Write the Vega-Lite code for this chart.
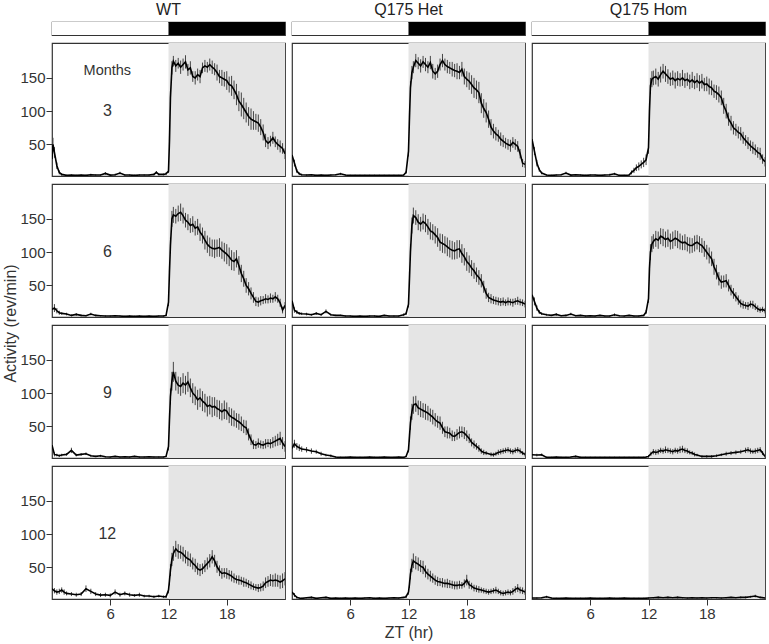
{
"$schema":"https://vega.github.io/schema/vega-lite/v6.json",
"background":"white",
"padding":{"left":2,"right":4,"top":1,"bottom":4},
"config":{
 "font":"Liberation Sans",
 "view":{"stroke":"#333","strokeWidth":1.2},
 "axis":{"labelFont":"Liberation Sans","labelFontSize":15,"labelColor":"#333","tickColor":"#333","tickSize":6,"labelPadding":1,"domain":false,"grid":false,"titleFont":"Liberation Sans","titleFontSize":16,"titleFontWeight":"normal","titleColor":"#333"},
 "title":{"font":"Liberation Sans","fontSize":16,"fontWeight":"normal","color":"#222","offset":4}
},
"datasets":{
"ld":[{"s":0,"e":12,"p":"L"},{"s":12,"e":24,"p":"D"}],
"WT3":[{"t":0,"v":28,"e":8},{"t":0.1,"v":50,"e":10},{"t":0.25,"v":38,"e":8},{"t":0.5,"v":18,"e":5},{"t":0.75,"v":8,"e":3},{"t":1,"v":5,"e":2},{"t":1.5,"v":3.5,"e":1},{"t":2,"v":4,"e":1},{"t":2.5,"v":3.5,"e":1},{"t":3,"v":4,"e":1},{"t":3.5,"v":3.5,"e":1},{"t":4,"v":4.5,"e":1.5},{"t":4.5,"v":4,"e":1},{"t":5,"v":4,"e":1},{"t":5.5,"v":6.5,"e":2},{"t":6,"v":4,"e":1},{"t":6.5,"v":4.5,"e":1.5},{"t":7,"v":7,"e":2},{"t":7.5,"v":4,"e":1},{"t":8,"v":4,"e":1},{"t":8.5,"v":3.5,"e":1},{"t":9,"v":4,"e":1},{"t":9.5,"v":4,"e":1},{"t":10,"v":4,"e":1},{"t":10.5,"v":5,"e":1.5},{"t":10.75,"v":8,"e":2},{"t":11,"v":5,"e":1.5},{"t":11.5,"v":5,"e":1.5},{"t":11.75,"v":6,"e":2},{"t":12,"v":10,"e":3},{"t":12.1,"v":55,"e":8},{"t":12.2,"v":120,"e":10},{"t":12.35,"v":165,"e":10},{"t":12.5,"v":175,"e":8},{"t":12.75,"v":168,"e":9},{"t":13,"v":172,"e":8},{"t":13.25,"v":166,"e":10},{"t":13.5,"v":170,"e":9},{"t":13.75,"v":174,"e":10},{"t":14,"v":162,"e":9},{"t":14.25,"v":165,"e":10},{"t":14.5,"v":152,"e":8},{"t":14.75,"v":150,"e":10},{"t":15,"v":155,"e":9},{"t":15.25,"v":152,"e":10},{"t":15.5,"v":165,"e":8},{"t":15.75,"v":168,"e":9},{"t":16,"v":166,"e":8},{"t":16.25,"v":170,"e":9},{"t":16.5,"v":166,"e":10},{"t":16.75,"v":163,"e":9},{"t":17,"v":158,"e":12},{"t":17.25,"v":152,"e":10},{"t":17.5,"v":150,"e":12},{"t":17.75,"v":148,"e":11},{"t":18,"v":146,"e":14},{"t":18.25,"v":140,"e":12},{"t":18.5,"v":138,"e":15},{"t":18.75,"v":132,"e":14},{"t":19,"v":125,"e":16},{"t":19.25,"v":115,"e":15},{"t":19.5,"v":110,"e":18},{"t":19.75,"v":104,"e":16},{"t":20,"v":98,"e":15},{"t":20.25,"v":92,"e":14},{"t":20.5,"v":88,"e":16},{"t":20.75,"v":86,"e":14},{"t":21,"v":84,"e":12},{"t":21.25,"v":82,"e":13},{"t":21.5,"v":76,"e":12},{"t":21.75,"v":68,"e":12},{"t":22,"v":56,"e":10},{"t":22.25,"v":52,"e":9},{"t":22.5,"v":55,"e":8},{"t":22.75,"v":60,"e":9},{"t":23,"v":54,"e":8},{"t":23.25,"v":50,"e":8},{"t":23.5,"v":47,"e":9},{"t":23.75,"v":44,"e":8},{"t":24,"v":36,"e":8}],
"Het3":[{"t":0,"v":34,"e":6},{"t":0.25,"v":22,"e":5},{"t":0.5,"v":10,"e":3},{"t":0.75,"v":6,"e":2},{"t":1,"v":4.5,"e":1.5},{"t":1.5,"v":4,"e":1},{"t":2,"v":4.5,"e":1},{"t":2.5,"v":3.5,"e":1},{"t":3,"v":4,"e":1},{"t":3.5,"v":3.5,"e":1},{"t":4,"v":4,"e":1},{"t":4.5,"v":4.5,"e":1},{"t":5,"v":6,"e":1.5},{"t":5.5,"v":4,"e":1},{"t":6,"v":3.5,"e":1},{"t":6.5,"v":3.5,"e":1},{"t":7,"v":3.5,"e":1},{"t":7.5,"v":3.5,"e":1},{"t":8,"v":3.5,"e":1},{"t":8.5,"v":3.5,"e":1},{"t":9,"v":3.5,"e":1},{"t":9.5,"v":3.5,"e":1},{"t":10,"v":3.5,"e":1},{"t":10.5,"v":3.5,"e":1},{"t":11,"v":3.5,"e":1},{"t":11.5,"v":4,"e":1},{"t":11.75,"v":8,"e":2},{"t":12,"v":40,"e":8},{"t":12.1,"v":90,"e":10},{"t":12.2,"v":135,"e":10},{"t":12.35,"v":158,"e":10},{"t":12.5,"v":166,"e":9},{"t":12.75,"v":176,"e":10},{"t":13,"v":172,"e":9},{"t":13.25,"v":168,"e":10},{"t":13.5,"v":174,"e":9},{"t":13.75,"v":170,"e":10},{"t":14,"v":166,"e":9},{"t":14.25,"v":173,"e":10},{"t":14.5,"v":160,"e":11},{"t":14.75,"v":156,"e":9},{"t":15,"v":160,"e":10},{"t":15.25,"v":170,"e":9},{"t":15.5,"v":176,"e":10},{"t":15.75,"v":170,"e":9},{"t":16,"v":167,"e":10},{"t":16.25,"v":165,"e":9},{"t":16.5,"v":163,"e":11},{"t":16.75,"v":161,"e":10},{"t":17,"v":160,"e":12},{"t":17.25,"v":158,"e":10},{"t":17.5,"v":163,"e":11},{"t":17.75,"v":152,"e":12},{"t":18,"v":148,"e":12},{"t":18.25,"v":145,"e":13},{"t":18.5,"v":140,"e":14},{"t":18.75,"v":135,"e":15},{"t":19,"v":132,"e":14},{"t":19.25,"v":128,"e":16},{"t":19.5,"v":112,"e":15},{"t":19.75,"v":104,"e":14},{"t":20,"v":98,"e":15},{"t":20.25,"v":88,"e":13},{"t":20.5,"v":76,"e":12},{"t":20.75,"v":70,"e":11},{"t":21,"v":66,"e":10},{"t":21.25,"v":63,"e":9},{"t":21.5,"v":58,"e":10},{"t":21.75,"v":55,"e":9},{"t":22,"v":52,"e":8},{"t":22.25,"v":50,"e":8},{"t":22.5,"v":48,"e":9},{"t":22.75,"v":53,"e":8},{"t":23,"v":50,"e":8},{"t":23.25,"v":47,"e":8},{"t":23.5,"v":36,"e":7},{"t":23.75,"v":22,"e":6},{"t":24,"v":20,"e":5}],
"Hom3":[{"t":0,"v":58,"e":8},{"t":0.25,"v":40,"e":6},{"t":0.5,"v":22,"e":5},{"t":0.75,"v":12,"e":3},{"t":1,"v":7,"e":2},{"t":1.5,"v":4,"e":1},{"t":2,"v":3.5,"e":1},{"t":2.5,"v":4,"e":1},{"t":3,"v":4.5,"e":1},{"t":3.5,"v":7,"e":2},{"t":4,"v":4,"e":1},{"t":4.5,"v":4.5,"e":1},{"t":5,"v":4,"e":1},{"t":5.5,"v":3.5,"e":1},{"t":6,"v":4,"e":1},{"t":6.5,"v":4,"e":1},{"t":7,"v":3.5,"e":1},{"t":7.5,"v":4,"e":1},{"t":8,"v":4.5,"e":1.5},{"t":8.5,"v":6,"e":1.5},{"t":9,"v":3.5,"e":1},{"t":9.5,"v":3.5,"e":1},{"t":10,"v":4,"e":1},{"t":10.25,"v":8,"e":3},{"t":10.5,"v":11,"e":4},{"t":10.75,"v":15,"e":5},{"t":11,"v":17,"e":6},{"t":11.25,"v":20,"e":6},{"t":11.5,"v":23,"e":7},{"t":11.75,"v":27,"e":8},{"t":12,"v":45,"e":9},{"t":12.1,"v":100,"e":12},{"t":12.2,"v":138,"e":12},{"t":12.35,"v":148,"e":12},{"t":12.5,"v":150,"e":11},{"t":12.75,"v":152,"e":12},{"t":13,"v":148,"e":11},{"t":13.25,"v":155,"e":12},{"t":13.5,"v":160,"e":11},{"t":13.75,"v":156,"e":12},{"t":14,"v":152,"e":11},{"t":14.25,"v":148,"e":10},{"t":14.5,"v":150,"e":11},{"t":14.75,"v":146,"e":12},{"t":15,"v":149,"e":11},{"t":15.25,"v":147,"e":10},{"t":15.5,"v":150,"e":12},{"t":15.75,"v":146,"e":11},{"t":16,"v":148,"e":10},{"t":16.25,"v":144,"e":11},{"t":16.5,"v":147,"e":12},{"t":16.75,"v":143,"e":10},{"t":17,"v":146,"e":11},{"t":17.25,"v":142,"e":12},{"t":17.5,"v":145,"e":11},{"t":17.75,"v":140,"e":10},{"t":18,"v":141,"e":11},{"t":18.25,"v":137,"e":12},{"t":18.5,"v":135,"e":11},{"t":18.75,"v":130,"e":10},{"t":19,"v":128,"e":11},{"t":19.25,"v":125,"e":12},{"t":19.5,"v":120,"e":11},{"t":19.75,"v":108,"e":12},{"t":20,"v":100,"e":11},{"t":20.25,"v":88,"e":10},{"t":20.5,"v":82,"e":11},{"t":20.75,"v":75,"e":10},{"t":21,"v":72,"e":9},{"t":21.25,"v":68,"e":9},{"t":21.5,"v":66,"e":10},{"t":21.75,"v":60,"e":9},{"t":22,"v":56,"e":8},{"t":22.25,"v":52,"e":9},{"t":22.5,"v":48,"e":8},{"t":22.75,"v":45,"e":9},{"t":23,"v":42,"e":8},{"t":23.25,"v":38,"e":8},{"t":23.5,"v":36,"e":9},{"t":23.75,"v":28,"e":7},{"t":24,"v":24,"e":7}],
"WT6":[{"t":0,"v":14,"e":5},{"t":0.25,"v":16,"e":6},{"t":0.5,"v":12,"e":4},{"t":0.75,"v":9,"e":3},{"t":1,"v":8,"e":2},{"t":1.5,"v":7,"e":2},{"t":2,"v":5,"e":1.5},{"t":2.5,"v":6.5,"e":2},{"t":3,"v":5,"e":1.5},{"t":3.5,"v":4.5,"e":1},{"t":4,"v":7,"e":2},{"t":4.5,"v":5,"e":1.5},{"t":5,"v":4.5,"e":1},{"t":5.5,"v":4,"e":1},{"t":6,"v":4,"e":1},{"t":6.5,"v":4.5,"e":1},{"t":7,"v":4,"e":1},{"t":7.5,"v":3.5,"e":1},{"t":8,"v":4,"e":1},{"t":8.5,"v":3.5,"e":1},{"t":9,"v":4,"e":1},{"t":9.5,"v":3.5,"e":1},{"t":10,"v":4,"e":1},{"t":10.5,"v":3.5,"e":1},{"t":11,"v":4,"e":1},{"t":11.5,"v":4,"e":1},{"t":11.75,"v":5,"e":1},{"t":12,"v":25,"e":6},{"t":12.1,"v":70,"e":10},{"t":12.2,"v":110,"e":12},{"t":12.35,"v":150,"e":12},{"t":12.5,"v":156,"e":12},{"t":12.75,"v":154,"e":11},{"t":13,"v":158,"e":12},{"t":13.25,"v":160,"e":13},{"t":13.5,"v":155,"e":12},{"t":13.75,"v":148,"e":11},{"t":14,"v":145,"e":12},{"t":14.25,"v":140,"e":11},{"t":14.5,"v":142,"e":12},{"t":14.75,"v":136,"e":11},{"t":15,"v":138,"e":12},{"t":15.25,"v":130,"e":13},{"t":15.5,"v":125,"e":12},{"t":15.75,"v":118,"e":14},{"t":16,"v":112,"e":13},{"t":16.25,"v":108,"e":14},{"t":16.5,"v":106,"e":13},{"t":16.75,"v":105,"e":14},{"t":17,"v":106,"e":13},{"t":17.25,"v":107,"e":14},{"t":17.5,"v":103,"e":13},{"t":17.75,"v":100,"e":14},{"t":18,"v":97,"e":15},{"t":18.25,"v":93,"e":14},{"t":18.5,"v":88,"e":15},{"t":18.75,"v":86,"e":14},{"t":19,"v":90,"e":13},{"t":19.25,"v":80,"e":14},{"t":19.5,"v":68,"e":13},{"t":19.75,"v":60,"e":12},{"t":20,"v":50,"e":11},{"t":20.25,"v":45,"e":10},{"t":20.5,"v":38,"e":9},{"t":20.75,"v":32,"e":8},{"t":21,"v":26,"e":7},{"t":21.25,"v":25,"e":7},{"t":21.5,"v":27,"e":7},{"t":21.75,"v":28,"e":6},{"t":22,"v":30,"e":7},{"t":22.25,"v":29,"e":6},{"t":22.5,"v":31,"e":7},{"t":22.75,"v":30,"e":6},{"t":23,"v":33,"e":7},{"t":23.25,"v":30,"e":6},{"t":23.5,"v":24,"e":6},{"t":23.75,"v":13,"e":5},{"t":24,"v":20,"e":5}],
"Het6":[{"t":0,"v":27,"e":6},{"t":0.25,"v":13,"e":4},{"t":0.5,"v":10,"e":3},{"t":0.75,"v":8,"e":2},{"t":1,"v":7.5,"e":2},{"t":1.5,"v":7,"e":2},{"t":2,"v":6,"e":1.5},{"t":2.5,"v":8,"e":2},{"t":3,"v":6,"e":1.5},{"t":3.5,"v":11,"e":3},{"t":4,"v":6,"e":1.5},{"t":4.5,"v":5,"e":1},{"t":5,"v":5,"e":1},{"t":5.5,"v":4,"e":1},{"t":6,"v":4,"e":1},{"t":6.5,"v":3.5,"e":1},{"t":7,"v":4,"e":1},{"t":7.5,"v":3.5,"e":1},{"t":8,"v":4,"e":1},{"t":8.5,"v":4,"e":1},{"t":9,"v":3.5,"e":1},{"t":9.5,"v":5,"e":1},{"t":10,"v":4,"e":1},{"t":10.5,"v":4,"e":1},{"t":11,"v":4,"e":1},{"t":11.5,"v":6,"e":2},{"t":11.75,"v":7.5,"e":2},{"t":12,"v":22,"e":5},{"t":12.1,"v":60,"e":10},{"t":12.2,"v":100,"e":12},{"t":12.35,"v":140,"e":12},{"t":12.5,"v":155,"e":12},{"t":12.75,"v":152,"e":11},{"t":13,"v":145,"e":12},{"t":13.25,"v":142,"e":11},{"t":13.5,"v":146,"e":12},{"t":13.75,"v":143,"e":13},{"t":14,"v":138,"e":12},{"t":14.25,"v":132,"e":13},{"t":14.5,"v":130,"e":12},{"t":14.75,"v":126,"e":13},{"t":15,"v":122,"e":14},{"t":15.25,"v":115,"e":13},{"t":15.5,"v":113,"e":14},{"t":15.75,"v":111,"e":13},{"t":16,"v":108,"e":14},{"t":16.25,"v":105,"e":13},{"t":16.5,"v":103,"e":14},{"t":16.75,"v":102,"e":13},{"t":17,"v":104,"e":14},{"t":17.25,"v":105,"e":13},{"t":17.5,"v":98,"e":14},{"t":17.75,"v":93,"e":13},{"t":18,"v":86,"e":14},{"t":18.25,"v":82,"e":13},{"t":18.5,"v":76,"e":12},{"t":18.75,"v":72,"e":12},{"t":19,"v":66,"e":11},{"t":19.25,"v":62,"e":11},{"t":19.5,"v":57,"e":10},{"t":19.75,"v":48,"e":9},{"t":20,"v":38,"e":8},{"t":20.25,"v":32,"e":7},{"t":20.5,"v":30,"e":7},{"t":20.75,"v":28,"e":6},{"t":21,"v":27,"e":6},{"t":21.25,"v":26,"e":6},{"t":21.5,"v":25,"e":6},{"t":21.75,"v":26,"e":6},{"t":22,"v":24,"e":5},{"t":22.25,"v":26,"e":6},{"t":22.5,"v":25,"e":5},{"t":22.75,"v":24,"e":6},{"t":23,"v":26,"e":5},{"t":23.25,"v":27,"e":6},{"t":23.5,"v":25,"e":5},{"t":23.75,"v":24,"e":5},{"t":24,"v":22,"e":5}],
"Hom6":[{"t":0,"v":36,"e":7},{"t":0.25,"v":26,"e":6},{"t":0.5,"v":16,"e":4},{"t":0.75,"v":10,"e":3},{"t":1,"v":7.5,"e":2},{"t":1.5,"v":6,"e":1.5},{"t":2,"v":5,"e":1},{"t":2.5,"v":6.5,"e":2},{"t":3,"v":4.5,"e":1},{"t":3.5,"v":5,"e":1.5},{"t":4,"v":7,"e":2},{"t":4.5,"v":4.5,"e":1},{"t":5,"v":5,"e":1},{"t":5.5,"v":4,"e":1},{"t":6,"v":4.5,"e":1},{"t":6.5,"v":4,"e":1},{"t":7,"v":5,"e":1},{"t":7.5,"v":4,"e":1},{"t":8,"v":4,"e":1},{"t":8.5,"v":6,"e":2},{"t":9,"v":4.5,"e":1},{"t":9.5,"v":4,"e":1},{"t":10,"v":5,"e":1},{"t":10.5,"v":4,"e":1},{"t":11,"v":4,"e":1},{"t":11.5,"v":5,"e":1},{"t":11.75,"v":10,"e":3},{"t":12,"v":30,"e":6},{"t":12.1,"v":75,"e":10},{"t":12.2,"v":100,"e":12},{"t":12.35,"v":112,"e":12},{"t":12.5,"v":116,"e":11},{"t":12.75,"v":120,"e":12},{"t":13,"v":118,"e":13},{"t":13.25,"v":124,"e":12},{"t":13.5,"v":122,"e":13},{"t":13.75,"v":119,"e":12},{"t":14,"v":121,"e":13},{"t":14.25,"v":116,"e":12},{"t":14.5,"v":118,"e":13},{"t":14.75,"v":121,"e":12},{"t":15,"v":119,"e":13},{"t":15.25,"v":116,"e":12},{"t":15.5,"v":114,"e":11},{"t":15.75,"v":115,"e":12},{"t":16,"v":112,"e":11},{"t":16.25,"v":110,"e":12},{"t":16.5,"v":110,"e":11},{"t":16.75,"v":113,"e":12},{"t":17,"v":115,"e":11},{"t":17.25,"v":112,"e":12},{"t":17.5,"v":110,"e":11},{"t":17.75,"v":105,"e":12},{"t":18,"v":100,"e":11},{"t":18.25,"v":95,"e":12},{"t":18.5,"v":90,"e":11},{"t":18.75,"v":78,"e":12},{"t":19,"v":70,"e":11},{"t":19.25,"v":60,"e":10},{"t":19.5,"v":55,"e":10},{"t":19.75,"v":56,"e":9},{"t":20,"v":57,"e":10},{"t":20.25,"v":50,"e":9},{"t":20.5,"v":43,"e":8},{"t":20.75,"v":38,"e":8},{"t":21,"v":33,"e":7},{"t":21.25,"v":28,"e":7},{"t":21.5,"v":23,"e":6},{"t":21.75,"v":21,"e":6},{"t":22,"v":20,"e":5},{"t":22.25,"v":19,"e":6},{"t":22.5,"v":22,"e":5},{"t":22.75,"v":21,"e":6},{"t":23,"v":18,"e":5},{"t":23.25,"v":15,"e":5},{"t":23.5,"v":13,"e":4},{"t":23.75,"v":14,"e":4},{"t":24,"v":12,"e":4}],
"WT9":[{"t":0,"v":22,"e":6},{"t":0.25,"v":8,"e":3},{"t":0.5,"v":7,"e":2},{"t":0.75,"v":6,"e":2},{"t":1,"v":7,"e":2},{"t":1.5,"v":8,"e":2},{"t":2,"v":14,"e":4},{"t":2.5,"v":7,"e":2},{"t":3,"v":8,"e":2},{"t":3.5,"v":9,"e":2},{"t":4,"v":6,"e":1.5},{"t":4.5,"v":5,"e":1},{"t":5,"v":6,"e":1.5},{"t":5.5,"v":4.5,"e":1},{"t":6,"v":4,"e":1},{"t":6.5,"v":5,"e":1},{"t":7,"v":4,"e":1},{"t":7.5,"v":4.5,"e":1},{"t":8,"v":4,"e":1},{"t":8.5,"v":5,"e":1},{"t":9,"v":4,"e":1},{"t":9.5,"v":4,"e":1},{"t":10,"v":4.5,"e":1},{"t":10.5,"v":4,"e":1},{"t":11,"v":4,"e":1},{"t":11.5,"v":4,"e":1},{"t":11.75,"v":5,"e":1},{"t":12,"v":20,"e":6},{"t":12.1,"v":60,"e":10},{"t":12.2,"v":95,"e":12},{"t":12.35,"v":118,"e":14},{"t":12.5,"v":132,"e":15},{"t":12.75,"v":118,"e":14},{"t":13,"v":112,"e":13},{"t":13.25,"v":110,"e":14},{"t":13.5,"v":115,"e":15},{"t":13.75,"v":112,"e":14},{"t":14,"v":117,"e":15},{"t":14.25,"v":108,"e":14},{"t":14.5,"v":100,"e":15},{"t":14.75,"v":96,"e":14},{"t":15,"v":90,"e":15},{"t":15.25,"v":93,"e":14},{"t":15.5,"v":88,"e":15},{"t":15.75,"v":85,"e":14},{"t":16,"v":80,"e":15},{"t":16.25,"v":82,"e":14},{"t":16.5,"v":79,"e":15},{"t":16.75,"v":80,"e":14},{"t":17,"v":77,"e":13},{"t":17.25,"v":75,"e":14},{"t":17.5,"v":72,"e":13},{"t":17.75,"v":75,"e":14},{"t":18,"v":73,"e":13},{"t":18.25,"v":67,"e":12},{"t":18.5,"v":64,"e":13},{"t":18.75,"v":62,"e":12},{"t":19,"v":59,"e":11},{"t":19.25,"v":57,"e":12},{"t":19.5,"v":54,"e":11},{"t":19.75,"v":50,"e":10},{"t":20,"v":48,"e":11},{"t":20.25,"v":38,"e":9},{"t":20.5,"v":30,"e":8},{"t":20.75,"v":23,"e":7},{"t":21,"v":22,"e":6},{"t":21.25,"v":25,"e":7},{"t":21.5,"v":23,"e":6},{"t":21.75,"v":22,"e":6},{"t":22,"v":24,"e":7},{"t":22.25,"v":25,"e":6},{"t":22.5,"v":24,"e":7},{"t":22.75,"v":26,"e":8},{"t":23,"v":28,"e":8},{"t":23.25,"v":30,"e":9},{"t":23.5,"v":32,"e":10},{"t":23.75,"v":25,"e":9},{"t":24,"v":20,"e":8}],
"Het9":[{"t":0,"v":17,"e":5},{"t":0.25,"v":24,"e":6},{"t":0.5,"v":20,"e":5},{"t":0.75,"v":18,"e":5},{"t":1,"v":16,"e":4},{"t":1.5,"v":15,"e":4},{"t":2,"v":13,"e":4},{"t":2.5,"v":12,"e":3},{"t":3,"v":9,"e":3},{"t":3.5,"v":7,"e":2},{"t":4,"v":6,"e":2},{"t":4.5,"v":4,"e":1},{"t":5,"v":3.5,"e":1},{"t":5.5,"v":3.5,"e":1},{"t":6,"v":4,"e":1},{"t":6.5,"v":3.5,"e":1},{"t":7,"v":3.5,"e":1},{"t":7.5,"v":3.5,"e":1},{"t":8,"v":4,"e":1},{"t":8.5,"v":3.5,"e":1},{"t":9,"v":3.5,"e":1},{"t":9.5,"v":4,"e":1},{"t":10,"v":3.5,"e":1},{"t":10.5,"v":3.5,"e":1},{"t":11,"v":4,"e":1},{"t":11.5,"v":3.5,"e":1},{"t":11.75,"v":5,"e":1},{"t":12,"v":15,"e":4},{"t":12.1,"v":35,"e":8},{"t":12.2,"v":55,"e":10},{"t":12.35,"v":72,"e":12},{"t":12.5,"v":82,"e":13},{"t":12.75,"v":84,"e":12},{"t":13,"v":78,"e":11},{"t":13.25,"v":76,"e":12},{"t":13.5,"v":74,"e":11},{"t":13.75,"v":72,"e":12},{"t":14,"v":70,"e":11},{"t":14.25,"v":67,"e":10},{"t":14.5,"v":64,"e":11},{"t":14.75,"v":60,"e":10},{"t":15,"v":57,"e":9},{"t":15.25,"v":55,"e":10},{"t":15.5,"v":48,"e":9},{"t":15.75,"v":42,"e":8},{"t":16,"v":41,"e":9},{"t":16.25,"v":40,"e":8},{"t":16.5,"v":36,"e":8},{"t":16.75,"v":35,"e":7},{"t":17,"v":38,"e":8},{"t":17.25,"v":41,"e":9},{"t":17.5,"v":42,"e":8},{"t":17.75,"v":40,"e":9},{"t":18,"v":36,"e":8},{"t":18.25,"v":32,"e":7},{"t":18.5,"v":26,"e":6},{"t":18.75,"v":23,"e":6},{"t":19,"v":20,"e":5},{"t":19.25,"v":17,"e":5},{"t":19.5,"v":13,"e":4},{"t":19.75,"v":11,"e":4},{"t":20,"v":10,"e":3},{"t":20.5,"v":8,"e":3},{"t":20.75,"v":7.5,"e":3},{"t":21,"v":9,"e":3},{"t":21.25,"v":11,"e":4},{"t":21.5,"v":12,"e":4},{"t":21.75,"v":13,"e":4},{"t":22,"v":14,"e":4},{"t":22.25,"v":15,"e":4},{"t":22.5,"v":13,"e":4},{"t":22.75,"v":12,"e":4},{"t":23,"v":14,"e":4},{"t":23.25,"v":15,"e":4},{"t":23.5,"v":13,"e":4},{"t":23.75,"v":10,"e":3},{"t":24,"v":8,"e":3}],
"Hom9":[{"t":0,"v":7.5,"e":2},{"t":0.5,"v":7,"e":2},{"t":1,"v":7.5,"e":2},{"t":1.5,"v":3.5,"e":1},{"t":2,"v":3.5,"e":1},{"t":2.5,"v":4,"e":1},{"t":3,"v":3.5,"e":1},{"t":3.5,"v":3.5,"e":1},{"t":4,"v":4,"e":1},{"t":4.5,"v":5,"e":1.5},{"t":5,"v":3.5,"e":1},{"t":5.5,"v":3.5,"e":1},{"t":6,"v":3.5,"e":1},{"t":6.5,"v":3.5,"e":1},{"t":7,"v":3.5,"e":1},{"t":7.5,"v":3.5,"e":1},{"t":8,"v":3.5,"e":1},{"t":8.5,"v":3.5,"e":1},{"t":9,"v":3.5,"e":1},{"t":9.5,"v":3.5,"e":1},{"t":10,"v":3.5,"e":1},{"t":10.5,"v":3.5,"e":1},{"t":11,"v":3.5,"e":1},{"t":11.5,"v":3.5,"e":1},{"t":11.75,"v":4,"e":1},{"t":12,"v":5,"e":2},{"t":12.25,"v":9,"e":3},{"t":12.5,"v":12,"e":4},{"t":12.75,"v":11,"e":4},{"t":13,"v":12,"e":4},{"t":13.25,"v":14,"e":4},{"t":13.5,"v":13,"e":4},{"t":13.75,"v":15,"e":5},{"t":14,"v":14,"e":4},{"t":14.25,"v":13,"e":4},{"t":14.5,"v":12,"e":4},{"t":14.75,"v":14,"e":4},{"t":15,"v":13,"e":4},{"t":15.25,"v":15,"e":5},{"t":15.5,"v":16,"e":5},{"t":15.75,"v":14,"e":4},{"t":16,"v":13,"e":4},{"t":16.25,"v":11,"e":3},{"t":16.5,"v":10,"e":3},{"t":16.75,"v":8,"e":3},{"t":17,"v":7,"e":2},{"t":17.5,"v":5,"e":2},{"t":18,"v":5,"e":2},{"t":18.5,"v":5,"e":2},{"t":19,"v":6,"e":2},{"t":19.5,"v":7.5,"e":2},{"t":20,"v":9,"e":3},{"t":20.5,"v":10,"e":3},{"t":21,"v":11,"e":3},{"t":21.5,"v":12,"e":3},{"t":22,"v":14,"e":4},{"t":22.25,"v":15,"e":4},{"t":22.5,"v":13,"e":4},{"t":22.75,"v":12,"e":3},{"t":23,"v":13,"e":4},{"t":23.25,"v":14,"e":4},{"t":23.5,"v":15,"e":4},{"t":23.75,"v":10,"e":3},{"t":24,"v":5,"e":2}],
"WT12":[{"t":0,"v":18,"e":5},{"t":0.25,"v":15,"e":4},{"t":0.5,"v":13,"e":4},{"t":0.75,"v":14,"e":4},{"t":1,"v":16,"e":4},{"t":1.25,"v":13,"e":4},{"t":1.5,"v":11,"e":3},{"t":2,"v":10,"e":3},{"t":2.5,"v":9,"e":3},{"t":3,"v":10,"e":3},{"t":3.5,"v":18,"e":5},{"t":4,"v":14,"e":4},{"t":4.5,"v":10,"e":3},{"t":5,"v":8.5,"e":3},{"t":5.5,"v":9,"e":3},{"t":6,"v":8,"e":3},{"t":6.5,"v":13,"e":4},{"t":7,"v":9,"e":3},{"t":7.5,"v":11,"e":3},{"t":8,"v":9,"e":3},{"t":8.5,"v":8,"e":2},{"t":9,"v":9,"e":3},{"t":9.5,"v":7,"e":2},{"t":10,"v":7,"e":2},{"t":10.5,"v":6,"e":2},{"t":11,"v":7,"e":2},{"t":11.5,"v":6,"e":2},{"t":11.75,"v":6,"e":2},{"t":12,"v":16,"e":5},{"t":12.1,"v":30,"e":7},{"t":12.2,"v":46,"e":9},{"t":12.35,"v":62,"e":10},{"t":12.5,"v":71,"e":11},{"t":12.75,"v":78,"e":12},{"t":13,"v":74,"e":11},{"t":13.25,"v":73,"e":10},{"t":13.5,"v":70,"e":11},{"t":13.75,"v":66,"e":10},{"t":14,"v":63,"e":11},{"t":14.25,"v":61,"e":10},{"t":14.5,"v":56,"e":9},{"t":14.75,"v":53,"e":10},{"t":15,"v":48,"e":9},{"t":15.25,"v":46,"e":9},{"t":15.5,"v":48,"e":8},{"t":15.75,"v":52,"e":9},{"t":16,"v":56,"e":9},{"t":16.25,"v":60,"e":10},{"t":16.5,"v":66,"e":10},{"t":16.75,"v":60,"e":9},{"t":17,"v":51,"e":9},{"t":17.25,"v":45,"e":8},{"t":17.5,"v":41,"e":8},{"t":17.75,"v":42,"e":7},{"t":18,"v":41,"e":8},{"t":18.25,"v":39,"e":7},{"t":18.5,"v":37,"e":8},{"t":18.75,"v":34,"e":7},{"t":19,"v":32,"e":6},{"t":19.25,"v":31,"e":7},{"t":19.5,"v":30,"e":6},{"t":19.75,"v":28,"e":7},{"t":20,"v":27,"e":6},{"t":20.25,"v":25,"e":6},{"t":20.5,"v":23,"e":6},{"t":20.75,"v":21,"e":5},{"t":21,"v":20,"e":5},{"t":21.25,"v":19,"e":6},{"t":21.5,"v":20,"e":6},{"t":21.75,"v":22,"e":7},{"t":22,"v":27,"e":8},{"t":22.25,"v":29,"e":8},{"t":22.5,"v":31,"e":9},{"t":22.75,"v":30,"e":9},{"t":23,"v":31,"e":10},{"t":23.25,"v":30,"e":9},{"t":23.5,"v":28,"e":10},{"t":23.75,"v":30,"e":11},{"t":24,"v":33,"e":10}],
"Het12":[{"t":0,"v":13,"e":4},{"t":0.25,"v":8.5,"e":3},{"t":0.5,"v":5,"e":2},{"t":0.75,"v":4,"e":1},{"t":1,"v":3.5,"e":1},{"t":1.5,"v":4.5,"e":1},{"t":2,"v":5,"e":1.5},{"t":2.5,"v":3.5,"e":1},{"t":3,"v":4.5,"e":1},{"t":3.5,"v":5,"e":1.5},{"t":4,"v":3.5,"e":1},{"t":4.5,"v":4,"e":1},{"t":5,"v":3.5,"e":1},{"t":5.5,"v":4,"e":1},{"t":6,"v":3.5,"e":1},{"t":6.5,"v":4,"e":1},{"t":7,"v":3.5,"e":1},{"t":7.5,"v":4,"e":1},{"t":8,"v":4.5,"e":1},{"t":8.5,"v":3.5,"e":1},{"t":9,"v":4,"e":1},{"t":9.5,"v":3.5,"e":1},{"t":10,"v":4,"e":1},{"t":10.5,"v":4.5,"e":1},{"t":11,"v":4,"e":1},{"t":11.5,"v":5,"e":1},{"t":11.75,"v":6,"e":2},{"t":12,"v":13,"e":4},{"t":12.1,"v":25,"e":6},{"t":12.2,"v":40,"e":8},{"t":12.35,"v":53,"e":10},{"t":12.5,"v":60,"e":11},{"t":12.75,"v":57,"e":10},{"t":13,"v":55,"e":10},{"t":13.25,"v":52,"e":9},{"t":13.5,"v":50,"e":10},{"t":13.75,"v":44,"e":9},{"t":14,"v":40,"e":8},{"t":14.25,"v":37,"e":8},{"t":14.5,"v":34,"e":7},{"t":14.75,"v":31,"e":7},{"t":15,"v":29,"e":7},{"t":15.25,"v":28,"e":6},{"t":15.5,"v":27,"e":7},{"t":15.75,"v":26,"e":6},{"t":16,"v":26,"e":7},{"t":16.25,"v":25,"e":6},{"t":16.5,"v":24,"e":6},{"t":16.75,"v":23,"e":6},{"t":17,"v":23,"e":6},{"t":17.25,"v":24,"e":6},{"t":17.5,"v":23,"e":5},{"t":17.75,"v":26,"e":6},{"t":18,"v":31,"e":8},{"t":18.25,"v":24,"e":6},{"t":18.5,"v":22,"e":5},{"t":18.75,"v":19,"e":5},{"t":19,"v":18,"e":5},{"t":19.25,"v":17,"e":5},{"t":19.5,"v":16,"e":4},{"t":19.75,"v":15,"e":4},{"t":20,"v":14,"e":4},{"t":20.25,"v":13,"e":4},{"t":20.5,"v":14,"e":4},{"t":20.75,"v":15,"e":4},{"t":21,"v":16,"e":5},{"t":21.25,"v":14,"e":4},{"t":21.5,"v":12,"e":4},{"t":21.75,"v":11,"e":4},{"t":22,"v":12,"e":4},{"t":22.25,"v":13,"e":4},{"t":22.5,"v":12,"e":4},{"t":22.75,"v":14,"e":5},{"t":23,"v":17,"e":5},{"t":23.25,"v":19,"e":6},{"t":23.5,"v":16,"e":5},{"t":23.75,"v":15,"e":5},{"t":24,"v":13,"e":4}],
"Hom12":[{"t":0,"v":4,"e":1},{"t":0.5,"v":4,"e":1},{"t":1,"v":4.5,"e":1},{"t":1.5,"v":6,"e":1.5},{"t":2,"v":4,"e":1},{"t":2.5,"v":3.5,"e":1},{"t":3,"v":3.5,"e":1},{"t":3.5,"v":4,"e":1},{"t":4,"v":3.5,"e":1},{"t":4.5,"v":3.5,"e":1},{"t":5,"v":3.5,"e":1},{"t":5.5,"v":3.5,"e":1},{"t":6,"v":4,"e":1},{"t":6.5,"v":3.5,"e":1},{"t":7,"v":3.5,"e":1},{"t":7.5,"v":3.5,"e":1},{"t":8,"v":4,"e":1},{"t":8.5,"v":3.5,"e":1},{"t":9,"v":3.5,"e":1},{"t":9.5,"v":4,"e":1},{"t":10,"v":3.5,"e":1},{"t":10.5,"v":3.5,"e":1},{"t":11,"v":3.5,"e":1},{"t":11.5,"v":3.5,"e":1},{"t":12,"v":4,"e":1},{"t":12.5,"v":4.5,"e":1},{"t":13,"v":5,"e":1.5},{"t":13.5,"v":4.5,"e":1},{"t":14,"v":5,"e":1.5},{"t":14.5,"v":4.5,"e":1},{"t":15,"v":5,"e":1.5},{"t":15.5,"v":4.5,"e":1},{"t":16,"v":4,"e":1},{"t":16.5,"v":4.5,"e":1},{"t":17,"v":4,"e":1},{"t":17.5,"v":4.5,"e":1},{"t":18,"v":4,"e":1},{"t":18.5,"v":4.5,"e":1},{"t":19,"v":4.5,"e":1},{"t":19.5,"v":4,"e":1},{"t":20,"v":4.5,"e":1},{"t":20.5,"v":5,"e":1},{"t":21,"v":4.5,"e":1},{"t":21.5,"v":5,"e":1.5},{"t":22,"v":5,"e":1.5},{"t":22.5,"v":6,"e":1.5},{"t":23,"v":7,"e":2},{"t":23.5,"v":5,"e":1.5},{"t":24,"v":4,"e":1}]
},
"columns":3,
"bounds":"flush",
"align":"each",
"spacing":{"row":8,"column":7},
"concat":[
{"width":233,"height":13,"title":"WT","data":{"name":"ld"},"mark":"rect","encoding":{"x":{"field":"s","type":"quantitative","scale":{"domain":[0,24],"nice":false,"zero":false},"axis":null},"x2":{"field":"e"},"fill":{"field":"p","type":"nominal","scale":{"domain":["L","D"],"range":["white","black"]},"legend":null}}},
{"width":233,"height":13,"title":"Q175 Het","data":{"name":"ld"},"mark":"rect","encoding":{"x":{"field":"s","type":"quantitative","scale":{"domain":[0,24],"nice":false,"zero":false},"axis":null},"x2":{"field":"e"},"fill":{"field":"p","type":"nominal","scale":{"domain":["L","D"],"range":["white","black"]},"legend":null}}},
{"width":233,"height":13,"title":"Q175 Hom","data":{"name":"ld"},"mark":"rect","encoding":{"x":{"field":"s","type":"quantitative","scale":{"domain":[0,24],"nice":false,"zero":false},"axis":null},"x2":{"field":"e"},"fill":{"field":"p","type":"nominal","scale":{"domain":["L","D"],"range":["white","black"]},"legend":null}}},

{"width":233,"height":133,"layer":[
 {"data":{"name":"ld"},"transform":[{"filter":"datum.p==='D'"}],"mark":{"type":"rect","color":"#e5e5e5"},"encoding":{"x":{"field":"s","type":"quantitative","scale":{"domain":[0,24],"nice":false,"zero":false},"axis":null},"x2":{"field":"e"}}},
 {"data":{"name":"WT3"},"mark":{"type":"errorbar","color":"#444","thickness":1,"clip":true},"encoding":{"x":{"field":"t","type":"quantitative","axis":null},"y":{"field":"v","type":"quantitative","scale":{"domain":[2.6,202.4],"nice":false,"zero":false},"axis":{"values":[50,100,150],"title":null}},"yError":{"field":"e"}}},
 {"data":{"name":"WT3"},"mark":{"type":"line","color":"#000","strokeWidth":1.6,"clip":true},"encoding":{"x":{"field":"t","type":"quantitative","axis":null},"y":{"field":"v","type":"quantitative","scale":{"domain":[2.6,202.4],"nice":false,"zero":false},"axis":{"values":[50,100,150],"title":null}}}},
 {"data":{"values":[{"label":"Months"}]},"mark":{"type":"text","fontSize":14.5,"color":"#333"},"encoding":{"x":{"datum":5.7,"axis":null},"y":{"datum":160,"axis":{"values":[50,100,150],"title":null}},"text":{"field":"label"}}},
 {"data":{"values":[{"label":"3"}]},"mark":{"type":"text","fontSize":16,"color":"#333"},"encoding":{"x":{"datum":5.7,"axis":null},"y":{"datum":100,"axis":{"values":[50,100,150],"title":null}},"text":{"field":"label"}}}
]},
{"width":233,"height":133,"layer":[
 {"data":{"name":"ld"},"transform":[{"filter":"datum.p==='D'"}],"mark":{"type":"rect","color":"#e5e5e5"},"encoding":{"x":{"field":"s","type":"quantitative","scale":{"domain":[0,24],"nice":false,"zero":false},"axis":null},"x2":{"field":"e"}}},
 {"data":{"name":"Het3"},"mark":{"type":"errorbar","color":"#444","thickness":1,"clip":true},"encoding":{"x":{"field":"t","type":"quantitative","axis":null},"y":{"field":"v","type":"quantitative","scale":{"domain":[2.6,202.4],"nice":false,"zero":false},"axis":null},"yError":{"field":"e"}}},
 {"data":{"name":"Het3"},"mark":{"type":"line","color":"#000","strokeWidth":1.6,"clip":true},"encoding":{"x":{"field":"t","type":"quantitative","axis":null},"y":{"field":"v","type":"quantitative","scale":{"domain":[2.6,202.4],"nice":false,"zero":false},"axis":null}}}
]},
{"width":233,"height":133,"layer":[
 {"data":{"name":"ld"},"transform":[{"filter":"datum.p==='D'"}],"mark":{"type":"rect","color":"#e5e5e5"},"encoding":{"x":{"field":"s","type":"quantitative","scale":{"domain":[0,24],"nice":false,"zero":false},"axis":null},"x2":{"field":"e"}}},
 {"data":{"name":"Hom3"},"mark":{"type":"errorbar","color":"#444","thickness":1,"clip":true},"encoding":{"x":{"field":"t","type":"quantitative","axis":null},"y":{"field":"v","type":"quantitative","scale":{"domain":[2.6,202.4],"nice":false,"zero":false},"axis":null},"yError":{"field":"e"}}},
 {"data":{"name":"Hom3"},"mark":{"type":"line","color":"#000","strokeWidth":1.6,"clip":true},"encoding":{"x":{"field":"t","type":"quantitative","axis":null},"y":{"field":"v","type":"quantitative","scale":{"domain":[2.6,202.4],"nice":false,"zero":false},"axis":null}}}
]},

{"width":233,"height":133,"layer":[
 {"data":{"name":"ld"},"transform":[{"filter":"datum.p==='D'"}],"mark":{"type":"rect","color":"#e5e5e5"},"encoding":{"x":{"field":"s","type":"quantitative","scale":{"domain":[0,24],"nice":false,"zero":false},"axis":null},"x2":{"field":"e"}}},
 {"data":{"name":"WT6"},"mark":{"type":"errorbar","color":"#444","thickness":1,"clip":true},"encoding":{"x":{"field":"t","type":"quantitative","axis":null},"y":{"field":"v","type":"quantitative","scale":{"domain":[2.6,202.4],"nice":false,"zero":false},"axis":{"values":[50,100,150],"title":"Activity (rev/min)","titleY":139,"titlePadding":1}},"yError":{"field":"e"}}},
 {"data":{"name":"WT6"},"mark":{"type":"line","color":"#000","strokeWidth":1.6,"clip":true},"encoding":{"x":{"field":"t","type":"quantitative","axis":null},"y":{"field":"v","type":"quantitative","scale":{"domain":[2.6,202.4],"nice":false,"zero":false},"axis":{"values":[50,100,150],"title":"Activity (rev/min)","titleY":139,"titlePadding":1}}}},
 {"data":{"values":[{"label":"6"}]},"mark":{"type":"text","fontSize":16,"color":"#333"},"encoding":{"x":{"datum":5.7,"axis":null},"y":{"datum":100,"axis":{"values":[50,100,150],"title":"Activity (rev/min)","titleY":139,"titlePadding":1}},"text":{"field":"label"}}}
]},
{"width":233,"height":133,"layer":[
 {"data":{"name":"ld"},"transform":[{"filter":"datum.p==='D'"}],"mark":{"type":"rect","color":"#e5e5e5"},"encoding":{"x":{"field":"s","type":"quantitative","scale":{"domain":[0,24],"nice":false,"zero":false},"axis":null},"x2":{"field":"e"}}},
 {"data":{"name":"Het6"},"mark":{"type":"errorbar","color":"#444","thickness":1,"clip":true},"encoding":{"x":{"field":"t","type":"quantitative","axis":null},"y":{"field":"v","type":"quantitative","scale":{"domain":[2.6,202.4],"nice":false,"zero":false},"axis":null},"yError":{"field":"e"}}},
 {"data":{"name":"Het6"},"mark":{"type":"line","color":"#000","strokeWidth":1.6,"clip":true},"encoding":{"x":{"field":"t","type":"quantitative","axis":null},"y":{"field":"v","type":"quantitative","scale":{"domain":[2.6,202.4],"nice":false,"zero":false},"axis":null}}}
]},
{"width":233,"height":133,"layer":[
 {"data":{"name":"ld"},"transform":[{"filter":"datum.p==='D'"}],"mark":{"type":"rect","color":"#e5e5e5"},"encoding":{"x":{"field":"s","type":"quantitative","scale":{"domain":[0,24],"nice":false,"zero":false},"axis":null},"x2":{"field":"e"}}},
 {"data":{"name":"Hom6"},"mark":{"type":"errorbar","color":"#444","thickness":1,"clip":true},"encoding":{"x":{"field":"t","type":"quantitative","axis":null},"y":{"field":"v","type":"quantitative","scale":{"domain":[2.6,202.4],"nice":false,"zero":false},"axis":null},"yError":{"field":"e"}}},
 {"data":{"name":"Hom6"},"mark":{"type":"line","color":"#000","strokeWidth":1.6,"clip":true},"encoding":{"x":{"field":"t","type":"quantitative","axis":null},"y":{"field":"v","type":"quantitative","scale":{"domain":[2.6,202.4],"nice":false,"zero":false},"axis":null}}}
]},

{"width":233,"height":133,"layer":[
 {"data":{"name":"ld"},"transform":[{"filter":"datum.p==='D'"}],"mark":{"type":"rect","color":"#e5e5e5"},"encoding":{"x":{"field":"s","type":"quantitative","scale":{"domain":[0,24],"nice":false,"zero":false},"axis":null},"x2":{"field":"e"}}},
 {"data":{"name":"WT9"},"mark":{"type":"errorbar","color":"#444","thickness":1,"clip":true},"encoding":{"x":{"field":"t","type":"quantitative","axis":null},"y":{"field":"v","type":"quantitative","scale":{"domain":[2.6,202.4],"nice":false,"zero":false},"axis":{"values":[50,100,150],"title":null}},"yError":{"field":"e"}}},
 {"data":{"name":"WT9"},"mark":{"type":"line","color":"#000","strokeWidth":1.6,"clip":true},"encoding":{"x":{"field":"t","type":"quantitative","axis":null},"y":{"field":"v","type":"quantitative","scale":{"domain":[2.6,202.4],"nice":false,"zero":false},"axis":{"values":[50,100,150],"title":null}}}},
 {"data":{"values":[{"label":"9"}]},"mark":{"type":"text","fontSize":16,"color":"#333"},"encoding":{"x":{"datum":5.7,"axis":null},"y":{"datum":100,"axis":{"values":[50,100,150],"title":null}},"text":{"field":"label"}}}
]},
{"width":233,"height":133,"layer":[
 {"data":{"name":"ld"},"transform":[{"filter":"datum.p==='D'"}],"mark":{"type":"rect","color":"#e5e5e5"},"encoding":{"x":{"field":"s","type":"quantitative","scale":{"domain":[0,24],"nice":false,"zero":false},"axis":null},"x2":{"field":"e"}}},
 {"data":{"name":"Het9"},"mark":{"type":"errorbar","color":"#444","thickness":1,"clip":true},"encoding":{"x":{"field":"t","type":"quantitative","axis":null},"y":{"field":"v","type":"quantitative","scale":{"domain":[2.6,202.4],"nice":false,"zero":false},"axis":null},"yError":{"field":"e"}}},
 {"data":{"name":"Het9"},"mark":{"type":"line","color":"#000","strokeWidth":1.6,"clip":true},"encoding":{"x":{"field":"t","type":"quantitative","axis":null},"y":{"field":"v","type":"quantitative","scale":{"domain":[2.6,202.4],"nice":false,"zero":false},"axis":null}}}
]},
{"width":233,"height":133,"layer":[
 {"data":{"name":"ld"},"transform":[{"filter":"datum.p==='D'"}],"mark":{"type":"rect","color":"#e5e5e5"},"encoding":{"x":{"field":"s","type":"quantitative","scale":{"domain":[0,24],"nice":false,"zero":false},"axis":null},"x2":{"field":"e"}}},
 {"data":{"name":"Hom9"},"mark":{"type":"errorbar","color":"#444","thickness":1,"clip":true},"encoding":{"x":{"field":"t","type":"quantitative","axis":null},"y":{"field":"v","type":"quantitative","scale":{"domain":[2.6,202.4],"nice":false,"zero":false},"axis":null},"yError":{"field":"e"}}},
 {"data":{"name":"Hom9"},"mark":{"type":"line","color":"#000","strokeWidth":1.6,"clip":true},"encoding":{"x":{"field":"t","type":"quantitative","axis":null},"y":{"field":"v","type":"quantitative","scale":{"domain":[2.6,202.4],"nice":false,"zero":false},"axis":null}}}
]},

{"width":233,"height":133,"layer":[
 {"data":{"name":"ld"},"transform":[{"filter":"datum.p==='D'"}],"mark":{"type":"rect","color":"#e5e5e5"},"encoding":{"x":{"field":"s","type":"quantitative","scale":{"domain":[0,24],"nice":false,"zero":false},"axis":{"values":[6,12,18],"title":null}},"x2":{"field":"e"}}},
 {"data":{"name":"WT12"},"mark":{"type":"errorbar","color":"#444","thickness":1,"clip":true},"encoding":{"x":{"field":"t","type":"quantitative","axis":{"values":[6,12,18],"title":null}},"y":{"field":"v","type":"quantitative","scale":{"domain":[2.6,202.4],"nice":false,"zero":false},"axis":{"values":[50,100,150],"title":null}},"yError":{"field":"e"}}},
 {"data":{"name":"WT12"},"mark":{"type":"line","color":"#000","strokeWidth":1.6,"clip":true},"encoding":{"x":{"field":"t","type":"quantitative","axis":{"values":[6,12,18],"title":null}},"y":{"field":"v","type":"quantitative","scale":{"domain":[2.6,202.4],"nice":false,"zero":false},"axis":{"values":[50,100,150],"title":null}}}},
 {"data":{"values":[{"label":"12"}]},"mark":{"type":"text","fontSize":16,"color":"#333"},"encoding":{"x":{"datum":5.7,"axis":{"values":[6,12,18],"title":null}},"y":{"datum":100,"axis":{"values":[50,100,150],"title":null}},"text":{"field":"label"}}}
]},
{"width":233,"height":133,"layer":[
 {"data":{"name":"ld"},"transform":[{"filter":"datum.p==='D'"}],"mark":{"type":"rect","color":"#e5e5e5"},"encoding":{"x":{"field":"s","type":"quantitative","scale":{"domain":[0,24],"nice":false,"zero":false},"axis":{"values":[6,12,18],"title":"ZT (hr)","titlePadding":3}},"x2":{"field":"e"}}},
 {"data":{"name":"Het12"},"mark":{"type":"errorbar","color":"#444","thickness":1,"clip":true},"encoding":{"x":{"field":"t","type":"quantitative","axis":{"values":[6,12,18],"title":"ZT (hr)","titlePadding":3}},"y":{"field":"v","type":"quantitative","scale":{"domain":[2.6,202.4],"nice":false,"zero":false},"axis":null},"yError":{"field":"e"}}},
 {"data":{"name":"Het12"},"mark":{"type":"line","color":"#000","strokeWidth":1.6,"clip":true},"encoding":{"x":{"field":"t","type":"quantitative","axis":{"values":[6,12,18],"title":"ZT (hr)","titlePadding":3}},"y":{"field":"v","type":"quantitative","scale":{"domain":[2.6,202.4],"nice":false,"zero":false},"axis":null}}}
]},
{"width":233,"height":133,"layer":[
 {"data":{"name":"ld"},"transform":[{"filter":"datum.p==='D'"}],"mark":{"type":"rect","color":"#e5e5e5"},"encoding":{"x":{"field":"s","type":"quantitative","scale":{"domain":[0,24],"nice":false,"zero":false},"axis":{"values":[6,12,18],"title":null}},"x2":{"field":"e"}}},
 {"data":{"name":"Hom12"},"mark":{"type":"errorbar","color":"#444","thickness":1,"clip":true},"encoding":{"x":{"field":"t","type":"quantitative","axis":{"values":[6,12,18],"title":null}},"y":{"field":"v","type":"quantitative","scale":{"domain":[2.6,202.4],"nice":false,"zero":false},"axis":null},"yError":{"field":"e"}}},
 {"data":{"name":"Hom12"},"mark":{"type":"line","color":"#000","strokeWidth":1.6,"clip":true},"encoding":{"x":{"field":"t","type":"quantitative","axis":{"values":[6,12,18],"title":null}},"y":{"field":"v","type":"quantitative","scale":{"domain":[2.6,202.4],"nice":false,"zero":false},"axis":null}}}
]}
]
}
